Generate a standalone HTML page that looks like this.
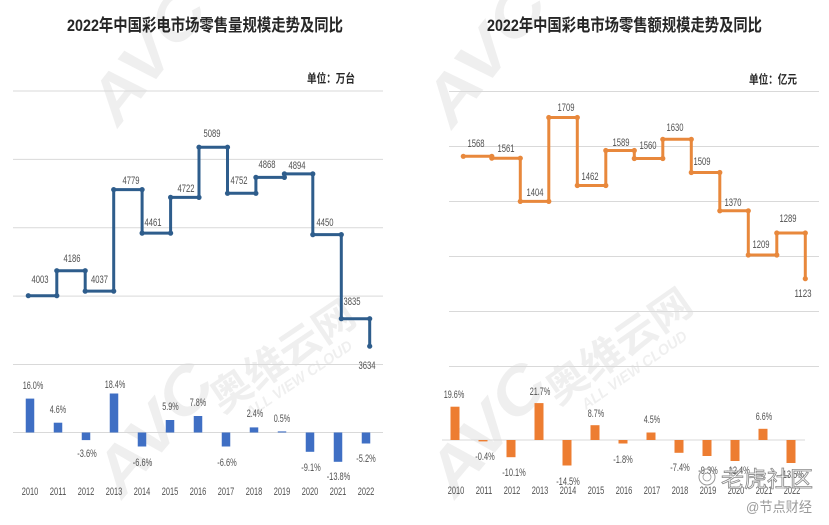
<!DOCTYPE html>
<html><head><meta charset="utf-8"><style>
html,body{margin:0;padding:0;background:#fff;}
svg{display:block;}
text{font-family:"Liberation Sans","Noto Sans CJK SC",sans-serif;}
.t{font-size:17px;font-weight:bold;fill:#262626;}
.u{font-size:12px;font-weight:bold;fill:#262626;}
.n{font-size:11px;fill:#505050;text-anchor:middle;}
.g{stroke:#d9d9d9;stroke-width:1;}
.wm{fill:#000;opacity:0.065;font-weight:bold;}
</style></head><body>
<svg width="829" height="525" viewBox="0 0 829 525" xmlns="http://www.w3.org/2000/svg">
<rect width="829" height="525" fill="#fff"/>

<!-- watermarks -->
<g class="wm">
  <text transform="translate(118,128) rotate(-52)" font-size="62" font-style="italic" textLength="150" lengthAdjust="spacingAndGlyphs">AVC</text>
  <text transform="translate(452,130) rotate(-52)" font-size="62" font-style="italic" textLength="160" lengthAdjust="spacingAndGlyphs">AVC</text>
  <text transform="translate(122,500) rotate(-50)" font-size="62" font-style="italic" textLength="150" lengthAdjust="spacingAndGlyphs">AVC</text>
  <text transform="translate(455,500) rotate(-50)" font-size="62" font-style="italic" textLength="150" lengthAdjust="spacingAndGlyphs">AVC</text>
  <text transform="translate(222,414) rotate(-34)" font-size="40" textLength="165" lengthAdjust="spacingAndGlyphs">奥维云网</text>
  <text transform="translate(558,406) rotate(-35)" font-size="40" textLength="168" lengthAdjust="spacingAndGlyphs">奥维云网</text>
  <text transform="translate(250,418) rotate(-34)" font-size="15" font-style="italic" textLength="125" lengthAdjust="spacingAndGlyphs">ALL VIEW CLOUD</text>
  <text transform="translate(586,410) rotate(-35)" font-size="15" font-style="italic" textLength="125" lengthAdjust="spacingAndGlyphs">ALL VIEW CLOUD</text>
</g>

<!-- ============ LEFT CHART ============ -->
<text class="t" x="67" y="31" textLength="276" lengthAdjust="spacingAndGlyphs">2022年中国彩电市场零售量规模走势及同比</text>
<text class="u" x="307" y="82.6" textLength="48" lengthAdjust="spacingAndGlyphs">单位：万台</text>

<line class="g" x1="13" y1="91" x2="383" y2="91"/>
<line class="g" x1="13" y1="159.4" x2="383" y2="159.4"/>
<line class="g" x1="13" y1="227.8" x2="383" y2="227.8"/>
<line class="g" x1="13" y1="296.1" x2="383" y2="296.1"/>
<line class="g" x1="13" y1="364.5" x2="383" y2="364.5"/>
<line class="g" x1="13" y1="432.5" x2="383" y2="432.5"/>

<path d="M28.3,295.7 H56.8 V270.7 H85.2 V291.1 H113.7 V189.6 H142.1 V233.1 H170.6 V197.4 H199.0 V147.2 H227.5 V193.3 H255.9 V177.4 H284.4 V173.9 H312.8 V234.6 H341.3 V318.7 H369.7 V346.2" fill="none" stroke="#2e5d8c" stroke-width="3" stroke-linejoin="round"/>
<g fill="#2e5d8c">
<circle cx="28.3" cy="295.7" r="2.6"/><circle cx="56.8" cy="295.7" r="2.6"/><circle cx="56.8" cy="270.7" r="2.6"/><circle cx="85.2" cy="270.7" r="2.6"/><circle cx="85.2" cy="291.1" r="2.6"/><circle cx="113.7" cy="291.1" r="2.6"/><circle cx="113.7" cy="189.6" r="2.6"/><circle cx="142.1" cy="189.6" r="2.6"/><circle cx="142.1" cy="233.1" r="2.6"/><circle cx="170.6" cy="233.1" r="2.6"/><circle cx="170.6" cy="197.4" r="2.6"/><circle cx="199.0" cy="197.4" r="2.6"/><circle cx="199.0" cy="147.2" r="2.6"/><circle cx="227.5" cy="147.2" r="2.6"/><circle cx="227.5" cy="193.3" r="2.6"/><circle cx="255.9" cy="193.3" r="2.6"/><circle cx="255.9" cy="177.4" r="2.6"/><circle cx="284.4" cy="177.4" r="2.6"/><circle cx="284.4" cy="173.9" r="2.6"/><circle cx="312.8" cy="173.9" r="2.6"/><circle cx="312.8" cy="234.6" r="2.6"/><circle cx="341.3" cy="234.6" r="2.6"/><circle cx="341.3" cy="318.7" r="2.6"/><circle cx="369.7" cy="318.7" r="2.6"/><circle cx="369.7" cy="346.2" r="2.6"/>
</g>

<g class="n">
<text x="40" y="283" textLength="17" lengthAdjust="spacingAndGlyphs">4003</text>
<text x="72" y="262" textLength="17" lengthAdjust="spacingAndGlyphs">4186</text>
<text x="99.5" y="283" textLength="17" lengthAdjust="spacingAndGlyphs">4037</text>
<text x="131" y="184" textLength="17" lengthAdjust="spacingAndGlyphs">4779</text>
<text x="153" y="226" textLength="17" lengthAdjust="spacingAndGlyphs">4461</text>
<text x="186" y="192" textLength="17" lengthAdjust="spacingAndGlyphs">4722</text>
<text x="212" y="137" textLength="17" lengthAdjust="spacingAndGlyphs">5089</text>
<text x="239" y="184" textLength="17" lengthAdjust="spacingAndGlyphs">4752</text>
<text x="267" y="168" textLength="17" lengthAdjust="spacingAndGlyphs">4868</text>
<text x="297" y="169" textLength="17" lengthAdjust="spacingAndGlyphs">4894</text>
<text x="325" y="226" textLength="17" lengthAdjust="spacingAndGlyphs">4450</text>
<text x="352" y="305" textLength="17" lengthAdjust="spacingAndGlyphs">3835</text>
<text x="367" y="369" textLength="17" lengthAdjust="spacingAndGlyphs">3634</text>
</g>

<g fill="#3f6fc4">
<rect x="25.75" y="398.6" width="8.5" height="33.9"/>
<rect x="53.75" y="422.7" width="8.5" height="9.8"/>
<rect x="81.75" y="432.5" width="8.5" height="7.6"/>
<rect x="109.75" y="393.5" width="8.5" height="39"/>
<rect x="137.75" y="432.5" width="8.5" height="14"/>
<rect x="165.75" y="420" width="8.5" height="12.5"/>
<rect x="193.75" y="416" width="8.5" height="16.5"/>
<rect x="221.75" y="432.5" width="8.5" height="14"/>
<rect x="249.75" y="427.4" width="8.5" height="5.1"/>
<rect x="277.75" y="431.4" width="8.5" height="1.1"/>
<rect x="305.75" y="432.5" width="8.5" height="19.3"/>
<rect x="333.75" y="432.5" width="8.5" height="29.3"/>
<rect x="361.75" y="432.5" width="8.5" height="11"/>
</g>

<g class="n">
<text x="33" y="389" textLength="20.6" lengthAdjust="spacingAndGlyphs">16.0%</text>
<text x="58" y="413" textLength="16.4" lengthAdjust="spacingAndGlyphs">4.6%</text>
<text x="87" y="457" textLength="19.4" lengthAdjust="spacingAndGlyphs">-3.6%</text>
<text x="115" y="388" textLength="20.6" lengthAdjust="spacingAndGlyphs">18.4%</text>
<text x="142.5" y="466" textLength="19.4" lengthAdjust="spacingAndGlyphs">-6.6%</text>
<text x="170.5" y="410" textLength="16.4" lengthAdjust="spacingAndGlyphs">5.9%</text>
<text x="198" y="406" textLength="16.4" lengthAdjust="spacingAndGlyphs">7.8%</text>
<text x="227" y="466" textLength="19.4" lengthAdjust="spacingAndGlyphs">-6.6%</text>
<text x="255" y="417" textLength="16.4" lengthAdjust="spacingAndGlyphs">2.4%</text>
<text x="282" y="422" textLength="16.4" lengthAdjust="spacingAndGlyphs">0.5%</text>
<text x="311" y="471" textLength="19.4" lengthAdjust="spacingAndGlyphs">-9.1%</text>
<text x="338.5" y="480" textLength="23.6" lengthAdjust="spacingAndGlyphs">-13.8%</text>
<text x="366" y="462" textLength="19.4" lengthAdjust="spacingAndGlyphs">-5.2%</text>
</g>

<g class="n">
<text x="30" y="495" textLength="16.5" lengthAdjust="spacingAndGlyphs">2010</text>
<text x="58" y="495" textLength="16.5" lengthAdjust="spacingAndGlyphs">2011</text>
<text x="86" y="495" textLength="16.5" lengthAdjust="spacingAndGlyphs">2012</text>
<text x="114" y="495" textLength="16.5" lengthAdjust="spacingAndGlyphs">2013</text>
<text x="142" y="495" textLength="16.5" lengthAdjust="spacingAndGlyphs">2014</text>
<text x="170" y="495" textLength="16.5" lengthAdjust="spacingAndGlyphs">2015</text>
<text x="198" y="495" textLength="16.5" lengthAdjust="spacingAndGlyphs">2016</text>
<text x="226" y="495" textLength="16.5" lengthAdjust="spacingAndGlyphs">2017</text>
<text x="254" y="495" textLength="16.5" lengthAdjust="spacingAndGlyphs">2018</text>
<text x="282" y="495" textLength="16.5" lengthAdjust="spacingAndGlyphs">2019</text>
<text x="310" y="495" textLength="16.5" lengthAdjust="spacingAndGlyphs">2020</text>
<text x="338" y="495" textLength="16.5" lengthAdjust="spacingAndGlyphs">2021</text>
<text x="366" y="495" textLength="16.5" lengthAdjust="spacingAndGlyphs">2022</text>
</g>

<!-- ============ RIGHT CHART ============ -->
<text class="t" x="487" y="31" textLength="275" lengthAdjust="spacingAndGlyphs">2022年中国彩电市场零售额规模走势及同比</text>
<text class="u" x="749" y="83.6" textLength="48" lengthAdjust="spacingAndGlyphs">单位：亿元</text>

<line class="g" x1="449" y1="91.5" x2="819" y2="91.5"/>
<line class="g" x1="449" y1="146.5" x2="819" y2="146.5"/>
<line class="g" x1="449" y1="201.5" x2="819" y2="201.5"/>
<line class="g" x1="449" y1="256.5" x2="819" y2="256.5"/>
<line class="g" x1="449" y1="311.5" x2="819" y2="311.5"/>
<line class="g" x1="449" y1="366.5" x2="819" y2="366.5"/>
<line class="g" x1="442" y1="440" x2="805" y2="440"/>

<path d="M463.3,156.3 H491.8 V158.2 H520.3 V201.4 H548.8 V117.5 H577.3 V185.5 H605.8 V150.5 H634.3 V158.5 H662.8 V139.3 H691.3 V172.5 H719.8 V210.8 H748.3 V255 H776.8 V233 H805.3 V278.7" fill="none" stroke="#e8883c" stroke-width="3" stroke-linejoin="round"/>
<g fill="#e8883c">
<circle cx="463.3" cy="156.3" r="2.6"/><circle cx="491.8" cy="156.3" r="2.6"/><circle cx="491.8" cy="158.2" r="2.6"/><circle cx="520.3" cy="158.2" r="2.6"/><circle cx="520.3" cy="201.4" r="2.6"/><circle cx="548.8" cy="201.4" r="2.6"/><circle cx="548.8" cy="117.5" r="2.6"/><circle cx="577.3" cy="117.5" r="2.6"/><circle cx="577.3" cy="185.5" r="2.6"/><circle cx="605.8" cy="185.5" r="2.6"/><circle cx="605.8" cy="150.5" r="2.6"/><circle cx="634.3" cy="150.5" r="2.6"/><circle cx="634.3" cy="158.5" r="2.6"/><circle cx="662.8" cy="158.5" r="2.6"/><circle cx="662.8" cy="139.3" r="2.6"/><circle cx="691.3" cy="139.3" r="2.6"/><circle cx="691.3" cy="172.5" r="2.6"/><circle cx="719.8" cy="172.5" r="2.6"/><circle cx="719.8" cy="210.8" r="2.6"/><circle cx="748.3" cy="210.8" r="2.6"/><circle cx="748.3" cy="255" r="2.6"/><circle cx="776.8" cy="255" r="2.6"/><circle cx="776.8" cy="233" r="2.6"/><circle cx="805.3" cy="233" r="2.6"/><circle cx="805.3" cy="278.7" r="2.6"/>
</g>

<g class="n">
<text x="476" y="147" textLength="17" lengthAdjust="spacingAndGlyphs">1568</text>
<text x="506" y="152" textLength="17" lengthAdjust="spacingAndGlyphs">1561</text>
<text x="535" y="196" textLength="17" lengthAdjust="spacingAndGlyphs">1404</text>
<text x="566" y="111" textLength="17" lengthAdjust="spacingAndGlyphs">1709</text>
<text x="590" y="180" textLength="17" lengthAdjust="spacingAndGlyphs">1462</text>
<text x="621" y="146" textLength="17" lengthAdjust="spacingAndGlyphs">1589</text>
<text x="648" y="149" textLength="17" lengthAdjust="spacingAndGlyphs">1560</text>
<text x="675" y="131" textLength="17" lengthAdjust="spacingAndGlyphs">1630</text>
<text x="702" y="165" textLength="17" lengthAdjust="spacingAndGlyphs">1509</text>
<text x="733" y="206" textLength="17" lengthAdjust="spacingAndGlyphs">1370</text>
<text x="761" y="248" textLength="17" lengthAdjust="spacingAndGlyphs">1209</text>
<text x="788" y="222" textLength="17" lengthAdjust="spacingAndGlyphs">1289</text>
<text x="803" y="297" textLength="17" lengthAdjust="spacingAndGlyphs">1123</text>
</g>

<g fill="#ed7d31">
<rect x="450.5" y="406.7" width="9" height="33.3"/>
<rect x="478.5" y="440" width="9" height="1.4"/>
<rect x="506.5" y="440" width="9" height="17.2"/>
<rect x="534.5" y="403.1" width="9" height="36.9"/>
<rect x="562.5" y="440" width="9" height="25.5"/>
<rect x="590.5" y="425.2" width="9" height="14.8"/>
<rect x="618.5" y="440" width="9" height="3.5"/>
<rect x="646.5" y="432.5" width="9" height="7.5"/>
<rect x="674.5" y="440" width="9" height="12.8"/>
<rect x="702.5" y="440" width="9" height="16"/>
<rect x="730.5" y="440" width="9" height="21"/>
<rect x="758.5" y="428.8" width="9" height="11.2"/>
<rect x="786.5" y="440" width="9" height="23"/>
</g>

<g class="n">
<text x="454" y="398" textLength="20.6" lengthAdjust="spacingAndGlyphs">19.6%</text>
<text x="485" y="460" textLength="19.4" lengthAdjust="spacingAndGlyphs">-0.4%</text>
<text x="514" y="476" textLength="23.6" lengthAdjust="spacingAndGlyphs">-10.1%</text>
<text x="540" y="395" textLength="20.6" lengthAdjust="spacingAndGlyphs">21.7%</text>
<text x="568" y="485" textLength="23.6" lengthAdjust="spacingAndGlyphs">-14.5%</text>
<text x="596" y="417" textLength="16.4" lengthAdjust="spacingAndGlyphs">8.7%</text>
<text x="623" y="463" textLength="19.4" lengthAdjust="spacingAndGlyphs">-1.8%</text>
<text x="652" y="423" textLength="16.4" lengthAdjust="spacingAndGlyphs">4.5%</text>
<text x="680" y="471" textLength="19.4" lengthAdjust="spacingAndGlyphs">-7.4%</text>
<text x="708" y="474" textLength="19.4" lengthAdjust="spacingAndGlyphs">-9.3%</text>
<text x="738" y="474" textLength="23.6" lengthAdjust="spacingAndGlyphs">-12.4%</text>
<text x="764" y="420" textLength="16.4" lengthAdjust="spacingAndGlyphs">6.6%</text>
<text x="792" y="478" textLength="23.6" lengthAdjust="spacingAndGlyphs">-13.5%</text>
</g>

<g class="n">
<text x="456" y="494" textLength="16.5" lengthAdjust="spacingAndGlyphs">2010</text>
<text x="484" y="494" textLength="16.5" lengthAdjust="spacingAndGlyphs">2011</text>
<text x="512" y="494" textLength="16.5" lengthAdjust="spacingAndGlyphs">2012</text>
<text x="540" y="494" textLength="16.5" lengthAdjust="spacingAndGlyphs">2013</text>
<text x="568" y="494" textLength="16.5" lengthAdjust="spacingAndGlyphs">2014</text>
<text x="596" y="494" textLength="16.5" lengthAdjust="spacingAndGlyphs">2015</text>
<text x="624" y="494" textLength="16.5" lengthAdjust="spacingAndGlyphs">2016</text>
<text x="652" y="494" textLength="16.5" lengthAdjust="spacingAndGlyphs">2017</text>
<text x="680" y="494" textLength="16.5" lengthAdjust="spacingAndGlyphs">2018</text>
<text x="708" y="494" textLength="16.5" lengthAdjust="spacingAndGlyphs">2019</text>
<text x="736" y="494" textLength="16.5" lengthAdjust="spacingAndGlyphs">2020</text>
<text x="764" y="494" textLength="16.5" lengthAdjust="spacingAndGlyphs">2021</text>
<text x="792" y="494" textLength="16.5" lengthAdjust="spacingAndGlyphs">2022</text>
</g>

<!-- overlay watermarks (bottom right) -->
<circle cx="707" cy="477" r="8" fill="none" stroke="#9a9a9a" stroke-width="1"/>
<circle cx="707" cy="477" r="4" fill="none" stroke="#9a9a9a" stroke-width="0.8"/>
<text x="721" y="487" font-size="22" fill="#fff" fill-opacity="0.7" stroke="#8a8a8a" stroke-width="0.8" textLength="92" lengthAdjust="spacingAndGlyphs">老虎社区</text>
<text x="746" y="512" font-size="14" fill="#9a9a9a" textLength="66" lengthAdjust="spacingAndGlyphs">@节点财经</text>
</svg>
</body></html>
